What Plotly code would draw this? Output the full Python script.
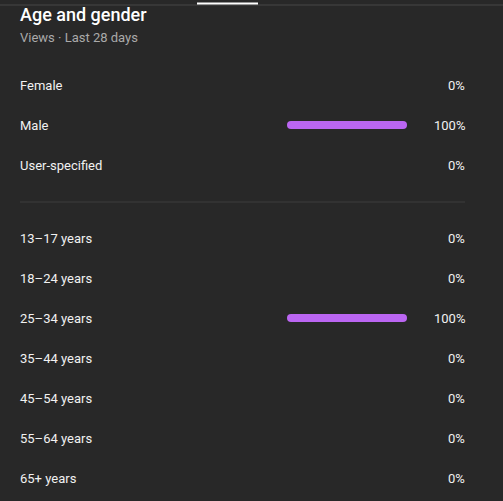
import plotly.graph_objects as go

# ---- data ----
gender_labels = ["Female", "Male", "User-specified"]
gender_values = [0, 100, 0]
age_labels = ["13–17 years", "18–24 years", "25–34 years", "35–44 years",
              "45–54 years", "55–64 years", "65+ years"]
age_values = [0, 0, 100, 0, 0, 0, 0]
title_text = "Age and gender"
subtitle_text = "Views · Last 28 days"

# ---- layout constants (pixels) ----
W, H = 503, 501
BG = "#282828"
BAR_COLOR = "#bb66f2"
TEXT = "#f1f1f1"
SUB = "#aaaaaa"
FONT = "Roboto, Arial, sans-serif"
BAR_T = 8
LEFT, RIGHT = 20, 465

gender_y = [85 + 40 * i for i in range(len(gender_labels))]
age_y = [238 + 40 * i for i in range(len(age_labels))]

labels = gender_labels + age_labels
values = gender_values + age_values
ys = gender_y + age_y

# pill-shaped bars: thick line segment with round end markers
bx, by = [], []
for v, y in zip(values, ys):
    if v > 0:
        bx += [0, v, None]
        by += [y, y, None]

fig = go.Figure()
fig.add_trace(go.Scatter(
    x=bx, y=by, mode="lines+markers", cliponaxis=False,
    line=dict(color=BAR_COLOR, width=BAR_T),
    marker=dict(color=BAR_COLOR, size=BAR_T, line=dict(width=0)),
    hoverinfo="skip", showlegend=False, connectgaps=False,
))


def ann(x, y, text, anchor, size, color, weight=None):
    f = dict(family=FONT, size=size, color=color)
    if weight:
        f["weight"] = weight
    return dict(x=x / W, xref="paper", y=y, yref="y", text=text,
                xanchor=anchor, yanchor="middle", showarrow=False,
                borderpad=0, borderwidth=0, font=f)


annotations = []
for lab, v, y in zip(labels, values, ys):
    annotations.append(ann(LEFT, y, lab, "left", 13, TEXT))
    annotations.append(ann(RIGHT, y, f"{v}%", "right", 13, TEXT))

annotations.append(ann(LEFT, 14, title_text, "left", 18, "#ffffff", 500))
annotations.append(ann(LEFT, 37.5, subtitle_text, "left", 13, SUB))

shapes = [
    dict(type="line", xref="paper", yref="y", x0=0, x1=1, y0=5, y1=5,
         line=dict(color="#3d3d3d", width=1.5)),
    dict(type="rect", xref="paper", yref="y", x0=197 / W, x1=258 / W, y0=2.5, y1=4.5,
         line=dict(width=0), fillcolor="#ffffff"),
    dict(type="line", xref="paper", yref="y", x0=LEFT / W, x1=RIGHT / W, y0=202, y1=202,
         line=dict(color="#3d3d3d", width=1)),
]

x0_px, x1_px = 287 + BAR_T / 2, 407 - BAR_T / 2
fig.update_layout(
    width=W, height=H,
    margin=dict(l=0, r=0, t=0, b=0),
    paper_bgcolor=BG, plot_bgcolor=BG,
    xaxis=dict(domain=[x0_px / W, x1_px / W], range=[0, 100], visible=False, fixedrange=True),
    yaxis=dict(range=[H, 0], visible=False, fixedrange=True),
    annotations=annotations, shapes=shapes,
)

fig.write_html("out.html", config={"displayModeBar": False},
               post_script="document.body.style.margin='0';document.body.style.background='" + BG + "';")
